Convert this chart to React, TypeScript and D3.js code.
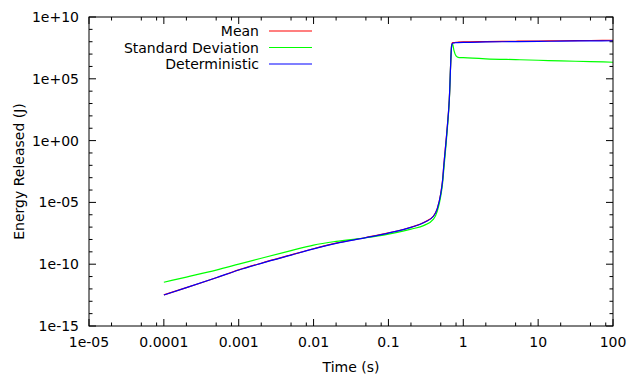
import { useEffect, useRef } from "react"
import * as d3 from "d3"

// time points (s)
const time = [
  1e-4, 2e-4, 5e-4, 1e-3, 2e-3, 5e-3, 1e-2, 2e-2, 5e-2, 0.1, 0.2, 0.3, 0.4, 0.45, 0.5, 0.53, 0.55, 0.6, 0.65,
  0.7, 0.72, 0.75, 0.8, 0.85, 1, 2, 5, 10, 20, 50, 100,
]

// log10 of energy released (J)
const meanLog = [
  -12.48, -11.9, -11.1, -10.46, -9.92, -9.25, -8.75, -8.3, -7.84, -7.47, -7.01, -6.61, -6.1, -5.48, -4.28,
  -3.15, -1.95, 0.55, 3.3, 7.72, 7.92, 7.93, 7.95, 7.96, 7.98, 8.01, 8.04, 8.06, 8.08, 8.1, 8.12,
]
const stdLog = [
  -11.46, -11.04, -10.48, -10.0, -9.52, -8.9, -8.45, -8.15, -7.86, -7.56, -7.16, -6.86, -6.36, -5.7, -4.5,
  -3.4, -2.3, 0.3, 3.2, 7.7, 7.8, 7.3, 6.85, 6.74, 6.71, 6.62, 6.55, 6.5, 6.45, 6.39, 6.34,
]
const detLog = [
  -12.49, -11.9, -11.1, -10.47, -9.93, -9.26, -8.76, -8.31, -7.85, -7.48, -7.02, -6.62, -6.12, -5.5, -4.3,
  -3.19, -2.0, 0.5, 3.28, 7.7, 7.87, 7.9, 7.92, 7.93, 7.95, 7.98, 8.01, 8.03, 8.05, 8.07, 8.08,
]

const xTicks = [1e-5, 1e-4, 1e-3, 1e-2, 1e-1, 1, 10, 100]
const xTickLabels = ["1e-05", "0.0001", "0.001", "0.01", "0.1", "1", "10", "100"]
const yTickExp = [-15, -10, -5, 0, 5, 10]
const yTickLabels = ["1e-15", "1e-10", "1e-05", "1e+00", "1e+05", "1e+10"]

const series = [
  { name: "Mean", color: "#ff0000", values: meanLog },
  { name: "Standard Deviation", color: "#00ff00", values: stdLog },
  { name: "Deterministic", color: "#0000ff", values: detLog },
]

export default function App() {
  const svgRef = useRef<SVGSVGElement>(null)

  useEffect(() => {
    if (!svgRef.current) return
    const svg = d3.select(svgRef.current)
    svg.selectAll("*").remove()

    const left = 89, right = 613, top = 17, bottom = 326
    const font = "DejaVu Sans, sans-serif"
    const fs = "14px"

    const x = d3.scaleLog().domain([1e-5, 100]).range([left, right])
    const y = d3.scaleLog().domain([1e-15, 1e10]).range([bottom, top])

    svg.append("rect").attr("width", 637).attr("height", 378).attr("fill", "white")

    // minor ticks
    const xMinor: number[] = []
    for (let e = -5; e < 2; e++) for (const m of [2, 5, 8]) xMinor.push(m * Math.pow(10, e))
    const yMinor: number[] = []
    for (let e = -15; e <= 10; e++) if (e % 5 !== 0) yMinor.push(Math.pow(10, e))

    const ticks = svg.append("g").attr("stroke", "black").attr("stroke-width", 1)
    const tick = (x1: number, y1: number, x2: number, y2: number) =>
      ticks.append("line").attr("x1", x1).attr("y1", y1).attr("x2", x2).attr("y2", y2)

    xTicks.forEach((t) => {
      tick(x(t), bottom, x(t), bottom - 7)
      tick(x(t), top, x(t), top + 7)
    })
    xMinor.forEach((t) => {
      tick(x(t), bottom, x(t), bottom - 3.5)
      tick(x(t), top, x(t), top + 3.5)
    })
    yTickExp.forEach((e) => {
      const v = Math.pow(10, e)
      tick(left, y(v), left + 7, y(v))
      tick(right, y(v), right - 7, y(v))
    })
    yMinor.forEach((v) => {
      tick(left, y(v), left + 3.5, y(v))
      tick(right, y(v), right - 3.5, y(v))
    })

    // tick labels
    svg
      .append("g")
      .selectAll("text")
      .data(xTicks)
      .enter()
      .append("text")
      .attr("x", (d) => x(d))
      .attr("y", bottom + 21)
      .attr("text-anchor", "middle")
      .style("font-family", font)
      .style("font-size", fs)
      .text((d, i) => xTickLabels[i])

    svg
      .append("g")
      .selectAll("text")
      .data(yTickExp)
      .enter()
      .append("text")
      .attr("x", left - 10)
      .attr("y", (d) => y(Math.pow(10, d)) + 5)
      .attr("text-anchor", "end")
      .style("font-family", font)
      .style("font-size", fs)
      .text((d, i) => yTickLabels[i])

    // curves
    const line = d3
      .line<number>()
      .x((d, i) => x(time[i]))
      .y((d) => y(Math.pow(10, d)))
      .curve(d3.curveMonotoneX)

    series.forEach((s) => {
      svg
        .append("path")
        .datum(s.values)
        .attr("d", line)
        .attr("fill", "none")
        .attr("stroke", s.color)
        .attr("stroke-width", 1.2)
    })

    // border
    svg
      .append("rect")
      .attr("x", left)
      .attr("y", top)
      .attr("width", right - left)
      .attr("height", bottom - top)
      .attr("fill", "none")
      .attr("stroke", "black")
      .attr("stroke-width", 1)

    // legend
    series.forEach((s, i) => {
      const ly = 31 + i * 16.5
      svg
        .append("text")
        .attr("x", 259)
        .attr("y", ly + 5)
        .attr("text-anchor", "end")
        .style("font-family", font)
        .style("font-size", fs)
        .text(s.name)
      svg
        .append("line")
        .attr("x1", 269)
        .attr("x2", 312)
        .attr("y1", ly)
        .attr("y2", ly)
        .attr("stroke", s.color)
        .attr("stroke-width", 1.2)
    })

    // axis titles
    svg
      .append("text")
      .attr("x", (left + right) / 2)
      .attr("y", 372)
      .attr("text-anchor", "middle")
      .style("font-family", font)
      .style("font-size", fs)
      .text("Time (s)")

    svg
      .append("text")
      .attr("transform", `translate(24,${(top + bottom) / 2}) rotate(-90)`)
      .attr("text-anchor", "middle")
      .style("font-family", font)
      .style("font-size", fs)
      .text("Energy Released (J)")
  }, [])

  return (
    <svg
      ref={svgRef}
      width={637}
      height={378}
      style={{ position: "absolute", left: 0, top: 0, display: "block" }}
    />
  )
}
